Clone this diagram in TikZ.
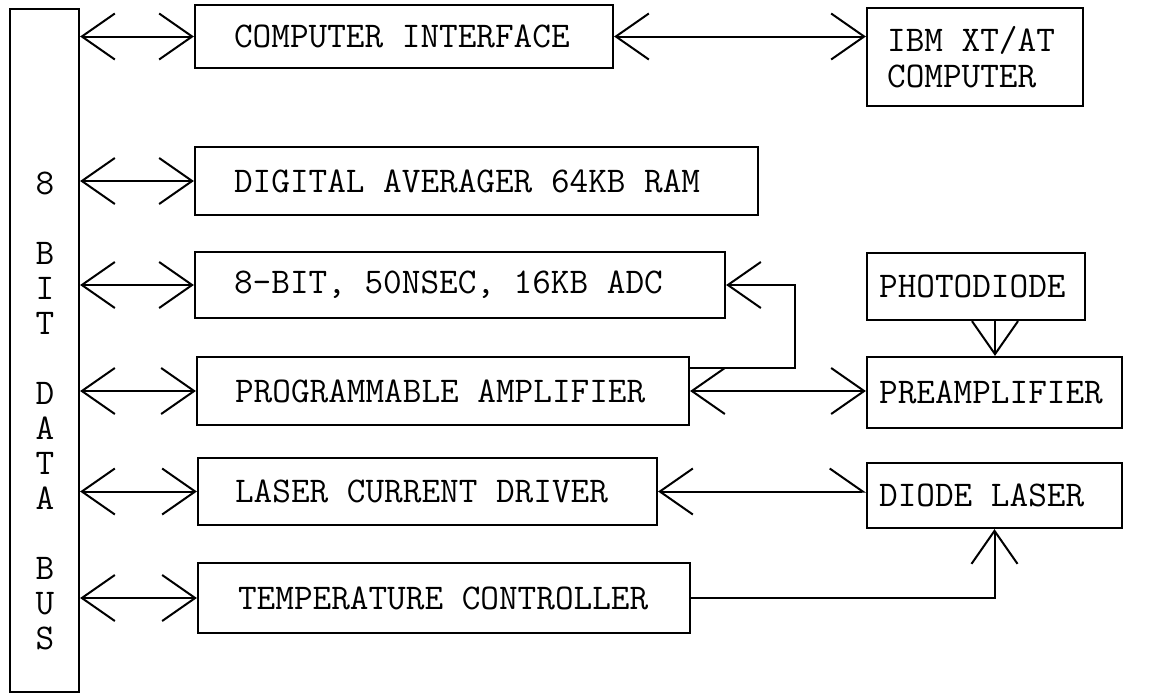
\documentclass[tikz,border=0pt]{standalone}
\usetikzlibrary{arrows.meta}
\tikzset{
  barb/.tip={Straight Barb[length=33pt,width=46pt]},
  halfbarb/.tip={Straight Barb[length=33pt,width=46pt,harpoon]},
  box/.style={draw, line width=2.2pt, inner sep=0pt},
  txt/.style={anchor=west, inner sep=0pt, align=left,
    font=\ttfamily\fontsize{36.2}{36}\selectfont},
  conn/.style={line width=2pt},
}
\begin{document}
\begin{tikzpicture}[x=1pt,y=-1pt]
\useasboundingbox (0,0) rectangle (1151,694);
% data bus
\node[box, minimum width=69pt, minimum height=683pt] (bus) at (44.5,350.5) {};
\node[align=center, inner sep=0pt, font=\ttfamily\fontsize{36.2}{35}\selectfont] (buslbl) at (45,410.5)
  {8\\[35pt]B\\I\\T\\[35pt]D\\A\\T\\A\\[35pt]B\\U\\S};
% left column
\node[box, minimum width=418pt, minimum height=63pt,
  label={[txt, xshift=40pt]west:COMPUTER INTERFACE}] (ci) at (404,36.5) {};
\node[box, minimum width=563pt, minimum height=68pt,
  label={[txt, xshift=40pt]west:DIGITAL AVERAGER 64KB RAM}] (dav) at (476.5,181) {};
\node[box, minimum width=530pt, minimum height=66pt,
  label={[txt, xshift=40pt]west:{8-BIT, 50NSEC, 16KB ADC}}] (adc) at (460,285) {};
\node[box, minimum width=492pt, minimum height=68pt,
  label={[txt, xshift=39pt]west:PROGRAMMABLE AMPLIFIER}] (pa) at (443,391) {};
\node[box, minimum width=459pt, minimum height=67pt,
  label={[txt, xshift=38pt]west:LASER CURRENT DRIVER}] (lcd) at (427.5,491.5) {};
\node[box, minimum width=492pt, minimum height=70pt,
  label={[txt, xshift=41pt]west:TEMPERATURE CONTROLLER}] (tc) at (444,598) {};
% right column
\node[box, minimum width=216pt, minimum height=98pt,
  label={[txt, xshift=21pt]west:{IBM XT/AT\\COMPUTER}}] (ibm) at (975,57) {};
\node[box, minimum width=218pt, minimum height=67pt,
  label={[txt, xshift=13pt]west:PHOTODIODE}] (pd) at (976,286.5) {};
\node[box, minimum width=255pt, minimum height=71pt,
  label={[txt, xshift=13pt]west:PREAMPLIFIER}] (pre) at (994.5,392.5) {};
\node[box, minimum width=255pt, minimum height=65pt,
  label={[txt, xshift=13pt]west:DIODE LASER}] (dl) at (994.5,495.5) {};
% bus connections
\foreach \b in {ci,dav,adc,pa,lcd,tc}
  \draw[conn, barb-barb] (\b.west -| bus.east) -- (\b.west);
% other connections
\draw[conn, barb-barb] (ci.east) -- (ci.east -| ibm.west);
\draw[conn, barb-barb] (pa.east) -- (pa.east -| pre.west);
\coordinate (loop) at (795,368);
\draw[conn, -barb] (pa.east |- loop) -- (loop) |- (adc.east);
\draw[conn, -barb] ([xshift=19pt]pd.south) -- ([xshift=19pt]pd.south |- pre.north);
\draw[conn, barb-halfbarb] (lcd.east) -- (lcd.east -| dl.west);
\draw[conn, -barb] (tc.east) -| (dl.south);
\end{tikzpicture}
\end{document}
